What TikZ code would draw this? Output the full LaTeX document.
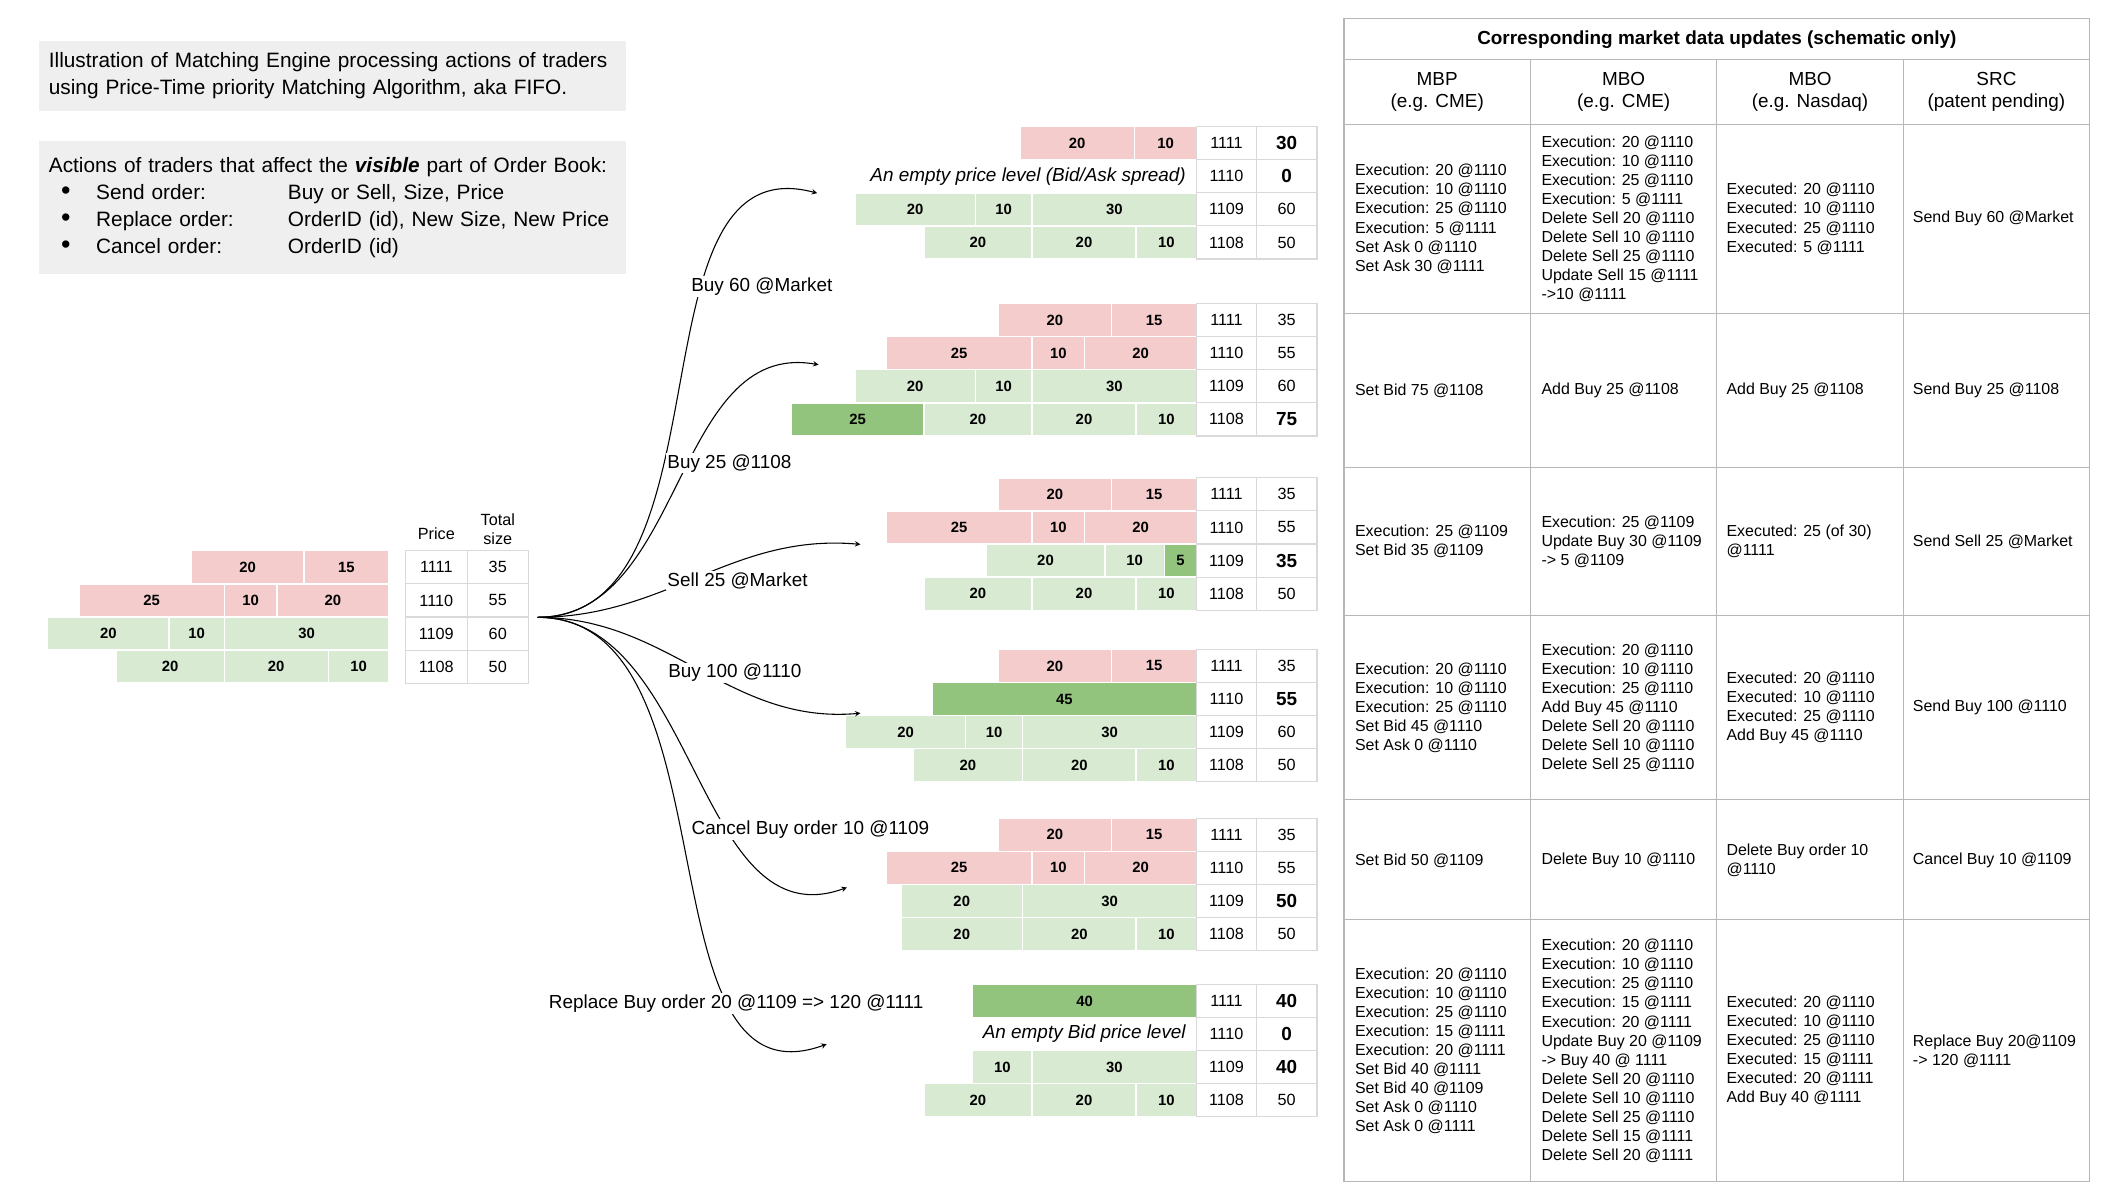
\documentclass[tikz,border=0pt]{standalone}
\usepackage{fontspec}
\setmainfont{Liberation Sans}

\definecolor{askred}{HTML}{F4CCCC}
\definecolor{bidgreen}{HTML}{D9EAD3}
\definecolor{newgreen}{HTML}{93C47D}
\definecolor{boxgray}{HTML}{EFEFEF}
\definecolor{levelgray}{HTML}{D9D9D9}
\definecolor{gridgray}{HTML}{B7B7B7}

% bold total of a changed price level
\newcommand\chg[1]{{\fontsize{14}{16}\selectfont\bfseries #1}}
% list item of the actions box
\newcommand\actitem[2]{\hspace*{9pt}\makebox[26pt][l]{\fontsize{20}{20}\selectfont\textbullet}\makebox[142pt][l]{#1}#2}

\begin{document}
\begin{tikzpicture}[
        x=1pt, y=-1pt,
        ask/.style={fill=askred, draw=white, line width=1pt, minimum height=24.5pt, inner sep=0pt, font=\fontsize{11}{13}\selectfont\bfseries},
        bid/.style={ask, fill=bidgreen},
        newbid/.style={ask, fill=newgreen},
        level/.style={draw=levelgray, line width=0.8pt, minimum width=44pt, minimum height=24.5pt, inner sep=0pt, font=\fontsize{12}{14}\selectfont},
        empty/.style={anchor=east, inner sep=0pt, font=\fontsize{14}{16}\selectfont\itshape},
        action/.style={fill=white, inner sep=1pt, font=\fontsize{14}{16}\selectfont},
        link/.style={->, >=stealth, line width=0.8pt},
        infobox/.style={fill=boxgray, anchor=north west, inner xsep=7pt, text width=420pt, align=left, font=\fontsize{15.4}{19.8}\selectfont},
        head/.style={align=center, font=\fontsize{14}{16}\selectfont},
        update/.style={anchor=west, align=left, inner sep=0pt, font=\fontsize{11.8}{14.1}\selectfont},
        tableline/.style={draw=gridgray, line width=0.8pt}
    ]
    \useasboundingbox (0,0) rectangle (1568,889);

    % Notes
    \node[infobox, minimum height=52pt] (intro) at (29,30)
        {Illustration of Matching Engine processing actions of traders\\using Price-Time priority Matching Algorithm, aka FIFO.};
    \node[infobox, minimum height=99pt] (actions) at (29,104)
        {Actions of traders that affect the \textbf{\textit{visible}} part of Order Book:\\
         \actitem{Send order:}{Buy or Sell, Size, Price}\\
         \actitem{Replace order:}{OrderID (id), New Size, New Price}\\
         \actitem{Cancel order:}{OrderID (id)}};

    % Initial order book
    \foreach \xa/\xb/\sz [count=\i] in {141.5/225/20, 225/288/15}
        \node[ask, minimum width={(\xb-\xa)*1pt}] (b0a\i) at ({(\xa+\xb)/2},420) {\sz};
    \foreach \xa/\xb/\sz [count=\i] in {58.5/166/25, 166/205/10, 205/288/20}
        \node[ask, minimum width={(\xb-\xa)*1pt}] (b0b\i) at ({(\xa+\xb)/2},444.5) {\sz};
    \foreach \xa/\xb/\sz [count=\i] in {35.3/125/20, 125/166/10, 166/288/30}
        \node[bid, minimum width={(\xb-\xa)*1pt}] (b0c\i) at ({(\xa+\xb)/2},469) {\sz};
    \foreach \xa/\xb/\sz [count=\i] in {86/166/20, 166/243/20, 243/288/10}
        \node[bid, minimum width={(\xb-\xa)*1pt}] (b0d\i) at ({(\xa+\xb)/2},493.5) {\sz};
    \foreach \pr/\tv [count=\i] in {1111/35, 1110/55, 1109/60, 1108/50} {
        \node[level, minimum width=46pt] (b0p\i) at ({323},{420+24.5*(\i-1)}) {\pr};
        \node[level, minimum width=45pt] (b0t\i) at ({368.5},{420+24.5*(\i-1)}) {\tv};
    }
    \node[font=\fontsize{12}{14}\selectfont] (hprice) at (323,395) {Price};
    \node[align=center, font=\fontsize{12}{14}\selectfont] (hsize) at (368.5,392) {Total\\size};

    % Buy 60 @Market
    \foreach \xa/\xb/\sz [count=\i] in {755/840/20, 840/886/10}
        \node[ask, minimum width={(\xb-\xa)*1pt}] (b1a\i) at ({(\xa+\xb)/2},106) {\sz};
    \node[empty] (b1b) at (878,130.5) {An empty price level (Bid/Ask spread)};
    \foreach \xa/\xb/\sz [count=\i] in {633/722/20, 722/764/10, 764/886/30}
        \node[bid, minimum width={(\xb-\xa)*1pt}] (b1c\i) at ({(\xa+\xb)/2},155) {\sz};
    \foreach \xa/\xb/\sz [count=\i] in {684/764/20, 764/841/20, 841/886/10}
        \node[bid, minimum width={(\xb-\xa)*1pt}] (b1d\i) at ({(\xa+\xb)/2},179.5) {\sz};
    \foreach \pr/\tv [count=\i] in {1111/\chg{30}, 1110/\chg{0}, 1109/60, 1108/50} {
        \node[level] (b1p\i) at ({908},{106+24.5*(\i-1)}) {\pr};
        \node[level, minimum width=45pt] (b1t\i) at ({952.5},{106+24.5*(\i-1)}) {\tv};
    }

    % Buy 25 @1108
    \foreach \xa/\xb/\sz [count=\i] in {739/823/20, 823/886/15}
        \node[ask, minimum width={(\xb-\xa)*1pt}] (b2a\i) at ({(\xa+\xb)/2},237) {\sz};
    \foreach \xa/\xb/\sz [count=\i] in {656/764/25, 764/803/10, 803/886/20}
        \node[ask, minimum width={(\xb-\xa)*1pt}] (b2b\i) at ({(\xa+\xb)/2},261.5) {\sz};
    \foreach \xa/\xb/\sz [count=\i] in {633/722/20, 722/764/10, 764/886/30}
        \node[bid, minimum width={(\xb-\xa)*1pt}] (b2c\i) at ({(\xa+\xb)/2},286) {\sz};
    \node[newbid, minimum width=98pt] (b2d0) at (635,310.5) {25};
    \foreach \xa/\xb/\sz [count=\i] in {684/764/20, 764/841/20, 841/886/10}
        \node[bid, minimum width={(\xb-\xa)*1pt}] (b2d\i) at ({(\xa+\xb)/2},310.5) {\sz};
    \foreach \pr/\tv [count=\i] in {1111/35, 1110/55, 1109/60, 1108/\chg{75}} {
        \node[level] (b2p\i) at ({908},{237+24.5*(\i-1)}) {\pr};
        \node[level, minimum width=45pt] (b2t\i) at ({952.5},{237+24.5*(\i-1)}) {\tv};
    }

    % Sell 25 @Market
    \foreach \xa/\xb/\sz [count=\i] in {739/823/20, 823/886/15}
        \node[ask, minimum width={(\xb-\xa)*1pt}] (b3a\i) at ({(\xa+\xb)/2},366) {\sz};
    \foreach \xa/\xb/\sz [count=\i] in {656/764/25, 764/803/10, 803/886/20}
        \node[ask, minimum width={(\xb-\xa)*1pt}] (b3b\i) at ({(\xa+\xb)/2},390.5) {\sz};
    \foreach \xa/\xb/\sz [count=\i] in {730/818/20, 818/862/10}
        \node[bid, minimum width={(\xb-\xa)*1pt}] (b3c\i) at ({(\xa+\xb)/2},415) {\sz};
    \node[newbid, minimum width=24pt] (b3c3) at (874,415) {5};
    \foreach \xa/\xb/\sz [count=\i] in {684/764/20, 764/841/20, 841/886/10}
        \node[bid, minimum width={(\xb-\xa)*1pt}] (b3d\i) at ({(\xa+\xb)/2},439.5) {\sz};
    \foreach \pr/\tv [count=\i] in {1111/35, 1110/55, 1109/\chg{35}, 1108/50} {
        \node[level] (b3p\i) at ({908},{366+24.5*(\i-1)}) {\pr};
        \node[level, minimum width=45pt] (b3t\i) at ({952.5},{366+24.5*(\i-1)}) {\tv};
    }

    % Buy 100 @1110
    \foreach \xa/\xb/\sz [count=\i] in {739/823/20, 823/886/15}
        \node[ask, minimum width={(\xb-\xa)*1pt}] (b4a\i) at ({(\xa+\xb)/2},493) {\sz};
    \node[newbid, minimum width=196pt] (b4b1) at (788,517.5) {45};
    \foreach \xa/\xb/\sz [count=\i] in {626/715/20, 715/757/10, 757/886/30}
        \node[bid, minimum width={(\xb-\xa)*1pt}] (b4c\i) at ({(\xa+\xb)/2},542) {\sz};
    \foreach \xa/\xb/\sz [count=\i] in {676/757/20, 757/841/20, 841/886/10}
        \node[bid, minimum width={(\xb-\xa)*1pt}] (b4d\i) at ({(\xa+\xb)/2},566.5) {\sz};
    \foreach \pr/\tv [count=\i] in {1111/35, 1110/\chg{55}, 1109/60, 1108/50} {
        \node[level] (b4p\i) at ({908},{493+24.5*(\i-1)}) {\pr};
        \node[level, minimum width=45pt] (b4t\i) at ({952.5},{493+24.5*(\i-1)}) {\tv};
    }

    % Cancel Buy order 10 @1109
    \foreach \xa/\xb/\sz [count=\i] in {739/823/20, 823/886/15}
        \node[ask, minimum width={(\xb-\xa)*1pt}] (b5a\i) at ({(\xa+\xb)/2},618) {\sz};
    \foreach \xa/\xb/\sz [count=\i] in {656/764/25, 764/803/10, 803/886/20}
        \node[ask, minimum width={(\xb-\xa)*1pt}] (b5b\i) at ({(\xa+\xb)/2},642.5) {\sz};
    \foreach \xa/\xb/\sz [count=\i] in {667/757/20, 757/886/30}
        \node[bid, minimum width={(\xb-\xa)*1pt}] (b5c\i) at ({(\xa+\xb)/2},667) {\sz};
    \foreach \xa/\xb/\sz [count=\i] in {667/757/20, 757/841/20, 841/886/10}
        \node[bid, minimum width={(\xb-\xa)*1pt}] (b5d\i) at ({(\xa+\xb)/2},691.5) {\sz};
    \foreach \pr/\tv [count=\i] in {1111/35, 1110/55, 1109/\chg{50}, 1108/50} {
        \node[level] (b5p\i) at ({908},{618+24.5*(\i-1)}) {\pr};
        \node[level, minimum width=45pt] (b5t\i) at ({952.5},{618+24.5*(\i-1)}) {\tv};
    }

    % Replace Buy order 20 @1109 => 120 @1111
    \node[newbid, minimum width=166pt] (b6a1) at (803,741) {40};
    \node[empty] (b6b) at (878,765.5) {An empty Bid price level};
    \foreach \xa/\xb/\sz [count=\i] in {720/764/10, 764/886/30}
        \node[bid, minimum width={(\xb-\xa)*1pt}] (b6c\i) at ({(\xa+\xb)/2},790) {\sz};
    \foreach \xa/\xb/\sz [count=\i] in {684/764/20, 764/841/20, 841/886/10}
        \node[bid, minimum width={(\xb-\xa)*1pt}] (b6d\i) at ({(\xa+\xb)/2},814.5) {\sz};
    \foreach \pr/\tv [count=\i] in {1111/\chg{40}, 1110/\chg{0}, 1109/\chg{40}, 1108/50} {
        \node[level] (b6p\i) at ({908},{741+24.5*(\i-1)}) {\pr};
        \node[level, minimum width=45pt] (b6t\i) at ({952.5},{741+24.5*(\i-1)}) {\tv};
    }

    % Actions fanning out of the initial book
    \coordinate (fan) at (398,457);
    \coordinate (t1) at (605,143);
    \coordinate (t2) at (606,270);
    \coordinate (t3) at (637,403);
    \coordinate (t4) at (637,528);
    \coordinate (t5) at (627,657);
    \coordinate (t6) at (612,773);
    \draw[link] (fan) to[out=0, in=165] (t1);
    \draw[link] (fan) to[out=0, in=170] (t2);
    \draw[link] (fan) to[out=0, in=175] (t3);
    \draw[link] (fan) to[out=0, in=185] (t4);
    \draw[link] (fan) to[out=0, in=200] (t5);
    \draw[link] (fan) to[out=0, in=200] (t6);
    \node[action] (l1) at (564,212) {Buy 60 @Market};
    \node[action] (l2) at (540,343) {Buy 25 @1108};
    \node[action] (l3) at (546,430) {Sell 25 @Market};
    \node[action] (l4) at (544,498) {Buy 100 @1110};
    \node[action] (l5) at (600,614) {Cancel Buy order 10 @1109};
    \node[action] (l6) at (545,743) {Replace Buy order 20 @1109 => 120 @1111};

    % Market data table
    \draw[tableline] (995,14) rectangle (1547,875);
    \foreach \yy in {44, 92, 232, 346, 456, 592, 681}
        \draw[tableline] (995,\yy) -- (1547,\yy);
    \foreach \xx in {1133, 1271, 1409}
        \draw[tableline] (\xx,44) -- (\xx,875);
    \node[head, font=\fontsize{14}{16}\selectfont\bfseries] (title) at (1271,29) {Corresponding market data updates (schematic only)};
    \node[head] (hmbp) at (1064,68) {MBP\\(e.g. CME)};
    \node[head] (hcme) at (1202,68) {MBO\\(e.g. CME)};
    \node[head] (hnsq) at (1340,68) {MBO\\(e.g. Nasdaq)};
    \node[head] (hsrc) at (1478,68) {SRC\\(patent pending)};

    % Buy 60 @Market
    \node[update] (mbp1) at (1003,162) {Execution: 20 @1110\\Execution: 10 @1110\\Execution: 25 @1110\\Execution: 5 @1111\\Set Ask 0 @1110\\Set Ask 30 @1111};
    \node[update] (cme1) at (1141,162) {Execution: 20 @1110\\Execution: 10 @1110\\Execution: 25 @1110\\Execution: 5 @1111\\Delete Sell 20 @1110\\Delete Sell 10 @1110\\Delete Sell 25 @1110\\Update Sell 15 @1111\\->10 @1111};
    \node[update] (nsq1) at (1278,162) {Executed: 20 @1110\\Executed: 10 @1110\\Executed: 25 @1110\\Executed: 5 @1111};
    \node[update] (src1) at (1416,162) {Send Buy 60 @Market};

    % Buy 25 @1108
    \node[update] (mbp2) at (1003,289) {Set Bid 75 @1108};
    \node[update] (cme2) at (1141,289) {Add Buy 25 @1108};
    \node[update] (nsq2) at (1278,289) {Add Buy 25 @1108};
    \node[update] (src2) at (1416,289) {Send Buy 25 @1108};

    % Sell 25 @Market
    \node[update] (mbp3) at (1003,401) {Execution: 25 @1109\\Set Bid 35 @1109};
    \node[update] (cme3) at (1141,401) {Execution: 25 @1109\\Update Buy 30 @1109\\-> 5 @1109};
    \node[update] (nsq3) at (1278,401) {Executed: 25 (of 30)\\@1111};
    \node[update] (src3) at (1416,401) {Send Sell 25 @Market};

    % Buy 100 @1110
    \node[update] (mbp4) at (1003,524) {Execution: 20 @1110\\Execution: 10 @1110\\Execution: 25 @1110\\Set Bid 45 @1110\\Set Ask 0 @1110};
    \node[update] (cme4) at (1141,524) {Execution: 20 @1110\\Execution: 10 @1110\\Execution: 25 @1110\\Add Buy 45 @1110\\Delete Sell 20 @1110\\Delete Sell 10 @1110\\Delete Sell 25 @1110};
    \node[update] (nsq4) at (1278,524) {Executed: 20 @1110\\Executed: 10 @1110\\Executed: 25 @1110\\Add Buy 45 @1110};
    \node[update] (src4) at (1416,524) {Send Buy 100 @1110};

    % Cancel
    \node[update] (mbp5) at (1003,637) {Set Bid 50 @1109};
    \node[update] (cme5) at (1141,637) {Delete Buy 10 @1110};
    \node[update] (nsq5) at (1278,637) {Delete Buy order 10\\@1110};
    \node[update] (src5) at (1416,637) {Cancel Buy 10 @1109};

    % Replace
    \node[update] (mbp6) at (1003,778) {Execution: 20 @1110\\Execution: 10 @1110\\Execution: 25 @1110\\Execution: 15 @1111\\Execution: 20 @1111\\Set Bid 40 @1111\\Set Bid 40 @1109\\Set Ask 0 @1110\\Set Ask 0 @1111};
    \node[update] (cme6) at (1141,778) {Execution: 20 @1110\\Execution: 10 @1110\\Execution: 25 @1110\\Execution: 15 @1111\\Execution: 20 @1111\\Update Buy 20 @1109\\-> Buy 40 @ 1111\\Delete Sell 20 @1110\\Delete Sell 10 @1110\\Delete Sell 25 @1110\\Delete Sell 15 @1111\\Delete Sell 20 @1111};
    \node[update] (nsq6) at (1278,778) {Executed: 20 @1110\\Executed: 10 @1110\\Executed: 25 @1110\\Executed: 15 @1111\\Executed: 20 @1111\\Add Buy 40 @1111};
    \node[update] (src6) at (1416,778) {Replace Buy 20@1109\\ -> 120 @1111};

\end{tikzpicture}
\end{document}
